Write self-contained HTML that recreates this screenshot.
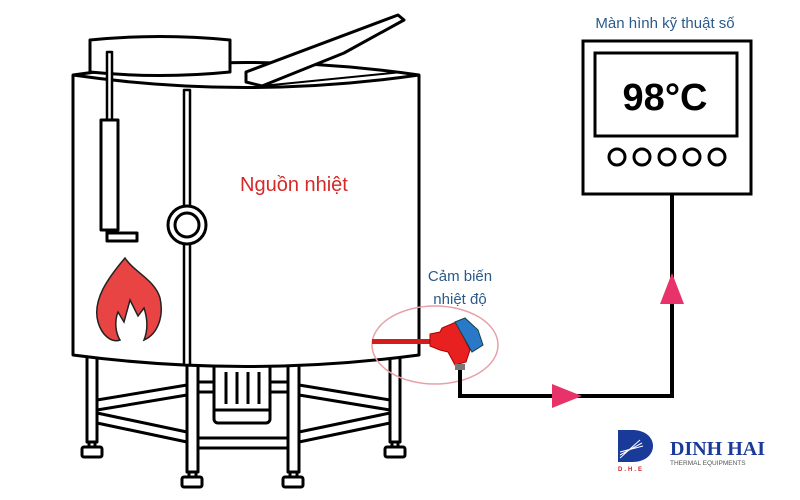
<!DOCTYPE html>
<html><head><meta charset="utf-8"><style>
html,body{margin:0;padding:0;background:#fff;width:800px;height:500px;overflow:hidden}
svg{display:block}
text{font-family:"Liberation Sans","DejaVu Sans",sans-serif}
</style></head><body>
<svg width="800" height="500" viewBox="0 0 800 500" xmlns="http://www.w3.org/2000/svg">
<g fill="#fff" stroke="#000" stroke-width="3" stroke-linejoin="round">
 <rect x="87" y="355" width="10" height="87"/>
 <rect x="187" y="360" width="11" height="112"/>
 <rect x="288" y="360" width="11" height="112"/>
 <rect x="390" y="355" width="10" height="87"/>
 <rect x="89" y="442" width="6" height="6"/><rect x="82" y="447" width="20" height="10" rx="2"/>
 <rect x="189" y="472" width="7" height="6"/><rect x="182" y="477" width="20" height="10" rx="2"/>
 <rect x="290" y="472" width="7" height="6"/><rect x="283" y="477" width="20" height="10" rx="2"/>
 <rect x="392" y="442" width="6" height="6"/><rect x="385" y="447" width="20" height="10" rx="2"/>
 <polygon points="97,400 187,385 187,395 97,410"/>
 <polygon points="97,413 187,432 187,442 97,423"/>
 <polygon points="299,385 390,400 390,410 299,395"/>
 <polygon points="299,432 390,413 390,423 299,442"/>
 <rect x="198" y="438" width="90" height="10"/>
 <rect x="198" y="382" width="16" height="10"/>
 <rect x="270" y="382" width="18" height="10"/>
 <rect x="214" y="362" width="56" height="61" rx="4"/>
 <line x1="226" y1="372" x2="226" y2="404"/><line x1="237" y1="372" x2="237" y2="404"/>
 <line x1="248" y1="372" x2="248" y2="404"/><line x1="259" y1="372" x2="259" y2="404"/>
 <line x1="214" y1="410" x2="270" y2="410"/>
 <path d="M73,75 Q246,50 419,75 L419,355 Q246,378 73,355 Z"/>
 <path d="M73,75 Q246,100 419,75" fill="none"/>
 <path d="M90,40 Q160,33 230,40 L230,72 Q160,79 90,72 Z"/>
 <polygon points="246,72 398,15 404,20 344,53 262,86 246,82"/>
 <path d="M262,86 Q340,78 402,72" fill="none" stroke-width="2"/>
 <rect x="184" y="90" width="6" height="275" fill="#fff" stroke-width="2.5"/>
 <circle cx="187" cy="225" r="19"/><circle cx="187" cy="225" r="12"/>
 <rect x="107" y="52" width="5" height="68" stroke-width="2.5"/>
 <rect x="101" y="120" width="17" height="110"/>
 <rect x="107" y="230" width="5" height="10"/>
 <rect x="107" y="233" width="30" height="8"/>
</g>
<path d="M125,258 C108,278 92,300 98,322 C102,336 112,343 120,340 C116,334 114,322 118,312 L124,322 L130,300 L138,316 L144,308 C148,320 148,330 144,340 C158,334 164,316 160,298 C155,280 134,272 125,258 Z" fill="#e84444" stroke="#222" stroke-width="1.5"/>
<text x="240" y="191" font-size="20" fill="#d42a2a">Nguồn nhiệt</text>
<ellipse cx="435" cy="345" rx="63" ry="39" fill="none" stroke="#e8a0a8" stroke-width="1.5"/>
<rect x="372" y="339" width="60" height="5" fill="#d41c1c"/>
<path d="M430,334 L440,332 L442,328 L456,322 L470,350 L466,362 L455,365 L448,352 L440,350 L430,346 Z" fill="#e82020" stroke="#a00" stroke-width="1"/>
<path d="M455,322 L465,318 L478,330 L483,345 L472,352 Z" fill="#2a78c8" stroke="#144" stroke-width="1"/>
<rect x="455" y="364" width="10" height="6" fill="#777"/>
<text x="460" y="281" font-size="15" fill="#2a5a8a" text-anchor="middle">Cảm biến</text>
<text x="460" y="304" font-size="15" fill="#2a5a8a" text-anchor="middle">nhiệt độ</text>
<polyline points="460,370 460,396 672,396 672,194" fill="none" stroke="#000" stroke-width="4"/>
<polygon points="552,384 582,396 552,408" fill="#e8336a"/>
<polygon points="672,273 660,304 684,304" fill="#e8336a"/>
<rect x="583" y="41" width="168" height="153" fill="#fff" stroke="#000" stroke-width="3"/>
<rect x="595" y="53" width="142" height="83" fill="#fff" stroke="#000" stroke-width="3"/>
<text x="665" y="110" font-size="38" font-weight="bold" text-anchor="middle">98°C</text>
<g fill="none" stroke="#000" stroke-width="3">
<circle cx="617" cy="157" r="8"/><circle cx="642" cy="157" r="8"/><circle cx="667" cy="157" r="8"/><circle cx="692" cy="157" r="8"/><circle cx="717" cy="157" r="8"/>
</g>
<text x="665" y="28" font-size="15" fill="#2a5a8a" text-anchor="middle">Màn hình kỹ thuật số</text>
<path d="M618,430 L632,430 C660,430 660,462 632,462 L618,462 Z" fill="#1a3a9a"/>
<path d="M620,458 L640,440 M620,455 L642,443 M620,452 L643,446" stroke="#fff" stroke-width="1"/>
<text x="618" y="471" font-size="6" fill="#d42020" font-weight="bold" letter-spacing="2">D.H.E</text>
<text x="670" y="455" font-size="20" font-weight="bold" fill="#1a3a9a" style="font-family:'Liberation Serif',serif">DINH HAI</text>
<text x="670" y="465" font-size="6.5" fill="#555">THERMAL EQUIPMENTS</text>
</svg>
</body></html>
